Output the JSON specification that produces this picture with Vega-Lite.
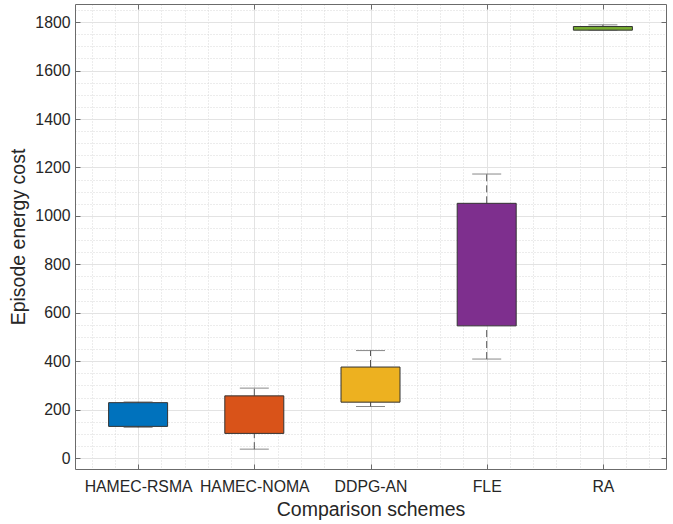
{
  "$schema": "https://vega.github.io/schema/vega-lite/v6.json",
  "width": 591,
  "height": 465,
  "autosize": {"type": "none"},
  "padding": {"left": 75, "top": 4, "right": 7, "bottom": 55},
  "background": "white",
  "config": {
    "view": {"stroke": null},
    "font": "Liberation Sans",
    "axis": {"labelFont": "Liberation Sans", "titleFont": "Liberation Sans", "labelColor": "#262626", "titleColor": "#262626", "titleFontWeight": "normal", "domainColor": "#6b6b6b", "tickColor": "#6b6b6b"}
  },
  "data": {
    "values": [
      {"scheme": "HAMEC-RSMA", "idx": 1, "lo": 127, "q1": 131, "q3": 229, "hi": 232},
      {"scheme": "HAMEC-NOMA", "idx": 2, "lo": 37, "q1": 102, "q3": 257, "hi": 289},
      {"scheme": "DDPG-AN", "idx": 3, "lo": 213, "q1": 231, "q3": 376, "hi": 444},
      {"scheme": "FLE", "idx": 4, "lo": 409, "q1": 546, "q3": 1052, "hi": 1173},
      {"scheme": "RA", "idx": 5, "lo": 1766, "q1": 1767, "q3": 1782, "hi": 1789}
    ]
  },
  "resolve": {"axis": {"x": "independent", "y": "independent"}},
  "layer": [
    {
      "mark": {"type": "rule", "color": "#555555", "strokeDash": [7, 4], "strokeWidth": 1},
      "encoding": {
        "x": {"field": "idx", "type": "quantitative", "scale": {"domain": [0.5, 5.5], "nice": false, "zero": false},
          "axis": {"orient": "bottom", "values": [0.6, 0.8, 1.2, 1.4, 1.6, 1.8, 2.2, 2.4, 2.6, 2.8, 3.2, 3.4, 3.6, 3.8, 4.2, 4.4, 4.6, 4.8, 5.2, 5.4], "labels": false, "ticks": false, "domain": false, "title": null, "grid": true, "gridColor": "#d9d9d9", "gridDash": [1, 2], "gridWidth": 1}},
        "y": {"field": "q3", "type": "quantitative", "scale": {"domain": [-45, 1875], "nice": false, "zero": false},
          "axis": {"orient": "left", "values": [50, 100, 150, 250, 300, 350, 450, 500, 550, 650, 700, 750, 850, 900, 950, 1050, 1100, 1150, 1250, 1300, 1350, 1450, 1500, 1550, 1650, 1700, 1750, 1850], "labels": false, "ticks": false, "domain": false, "title": null, "grid": true, "gridColor": "#d9d9d9", "gridDash": [1, 2], "gridWidth": 1}},
        "y2": {"field": "hi"}
      }
    },
    {
      "mark": {"type": "rule", "color": "#555555", "strokeDash": [7, 4], "strokeWidth": 1},
      "encoding": {
        "x": {"field": "idx", "type": "quantitative",
          "axis": {"orient": "bottom", "values": [1, 2, 3, 4, 5], "labelExpr": "['', 'HAMEC-RSMA', 'HAMEC-NOMA', 'DDPG-AN', 'FLE', 'RA'][datum.value]", "labelFontSize": 15.8, "labelPadding": 15, "tickSize": -5, "title": "Comparison schemes", "titleFontSize": 19.5, "titlePadding": 7, "grid": true, "gridColor": "#e3e3e3", "gridWidth": 1}},
        "y": {"field": "lo", "type": "quantitative",
          "axis": {"orient": "left", "values": [0, 200, 400, 600, 800, 1000, 1200, 1400, 1600, 1800], "format": "d", "labelFontSize": 15.8, "labelPadding": 10, "tickSize": -5, "title": "Episode energy cost", "titleFontSize": 19.5, "titlePadding": 6, "grid": true, "gridColor": "#e3e3e3", "gridWidth": 1}},
        "y2": {"field": "q1"}
      }
    },
    {
      "mark": {"type": "bar", "size": 59, "stroke": "#333333", "strokeWidth": 1},
      "encoding": {
        "x": {"field": "idx", "type": "quantitative",
          "axis": {"orient": "top", "values": [1, 2, 3, 4, 5], "labels": false, "tickSize": -5, "title": null, "grid": false}},
        "y": {"field": "q1", "type": "quantitative",
          "axis": {"orient": "right", "values": [0, 200, 400, 600, 800, 1000, 1200, 1400, 1600, 1800], "labels": false, "tickSize": -5, "title": null, "grid": false}},
        "y2": {"field": "q3"},
        "color": {"field": "scheme", "type": "nominal", "legend": null,
          "scale": {"domain": ["HAMEC-RSMA", "HAMEC-NOMA", "DDPG-AN", "FLE", "RA"], "range": ["#0072BD", "#D95319", "#EDB120", "#7E2F8E", "#77AC30"]}}
      }
    },
    {
      "mark": {"type": "tick", "orient": "horizontal", "size": 29, "thickness": 1, "color": "#555555"},
      "encoding": {
        "x": {"field": "idx", "type": "quantitative", "axis": null},
        "y": {"field": "hi", "type": "quantitative", "axis": null}
      }
    },
    {
      "mark": {"type": "tick", "orient": "horizontal", "size": 29, "thickness": 1, "color": "#555555"},
      "encoding": {
        "x": {"field": "idx", "type": "quantitative", "axis": null},
        "y": {"field": "lo", "type": "quantitative", "axis": null}
      }
    }
  ]
}
